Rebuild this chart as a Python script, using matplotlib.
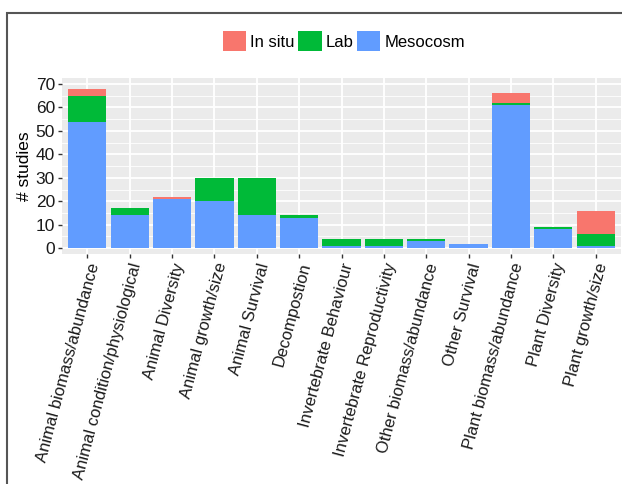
import matplotlib.pyplot as plt
from matplotlib.patches import Rectangle
import numpy as np

plt.rcParams['font.family'] = ['Liberation Sans', 'DejaVu Sans']

# data
categories = ['Animal biomass/abundance', 'Animal condition/physiological',
              'Animal Diversity', 'Animal growth/size', 'Animal Survival',
              'Decompostion', 'Invertebrate Behaviour',
              'Invertebrate Reproductivity', 'Other biomass/abundance',
              'Other Survival', 'Plant biomass/abundance', 'Plant Diversity',
              'Plant growth/size']
mesocosm = [54, 14, 21, 20, 14, 13, 1, 1, 3, 2, 61, 8, 1]
lab = [11, 3, 0, 10, 16, 1, 3, 3, 1, 0, 1, 1, 5]
in_situ = [3, 0, 1, 0, 0, 0, 0, 0, 0, 0, 4, 0, 10]
series_names = ['In situ', 'Lab', 'Mesocosm']
series_colors = ['#F8766D', '#00BA38', '#619CFF']

fig = plt.figure(figsize=(6.22, 4.84), dpi=100)
ax = fig.add_axes([62 / 622, 1 - 254.3 / 484, (621 - 62) / 622, (254.3 - 77.7) / 484])

x = np.arange(len(categories))
meso = np.array(mesocosm)
lb = np.array(lab)
ins = np.array(in_situ)

# stack: Mesocosm at bottom, Lab, In situ on top
ax.bar(x, meso, width=0.9, color=series_colors[2], label='Mesocosm', zorder=3)
ax.bar(x, lb, width=0.9, bottom=meso, color=series_colors[1], label='Lab', zorder=3)
ax.bar(x, ins, width=0.9, bottom=meso + lb, color=series_colors[0], label='In situ', zorder=3)

ax.set_facecolor('#EBEBEB')
ax.set_xlim(-0.6, len(categories) - 0.4)
ax.set_ylim(-2.6, 72.7)
ax.set_yticks(np.arange(0, 71, 10))
ax.set_yticks(np.arange(5, 71, 10), minor=True)
ax.set_xticks(x)
ax.set_xticklabels(categories, rotation=75, ha='right', va='top',
                   rotation_mode='anchor', fontsize=12, color='#1a1a1a')
ax.tick_params(axis='y', labelsize=12.5, labelcolor='#1a1a1a')
ax.tick_params(axis='both', which='major', length=3, width=1, color='#333333', pad=2)
ax.tick_params(axis='y', which='minor', length=0)

ax.grid(which='major', color='white', linewidth=1.3, zorder=0)
ax.grid(which='minor', axis='y', color='white', linewidth=0.6, zorder=0)
ax.set_axisbelow(True)
for s in ax.spines.values():
    s.set_visible(False)

ax.set_ylabel('# studies', fontsize=12.5, color='black', labelpad=3)

handles, labels = ax.get_legend_handles_labels()
order = [2, 1, 0]
fig.legend([handles[i] for i in order], [labels[i] for i in order],
           loc='center', bbox_to_anchor=(344 / 622, 1 - 41 / 484), ncol=3,
           frameon=False, fontsize=12, handlelength=1.4, handleheight=1.4,
           handletextpad=0.25, columnspacing=0.2, borderpad=0)

# outer frame of the screenshot (top and left edges)
fig.add_artist(Rectangle((7 / 622, -0.1), 1.2, 1 - 13 / 484 + 0.1,
                         transform=fig.transFigure, fill=False,
                         edgecolor='#555555', linewidth=1.5))

fig.savefig('out.png', dpi=100)
